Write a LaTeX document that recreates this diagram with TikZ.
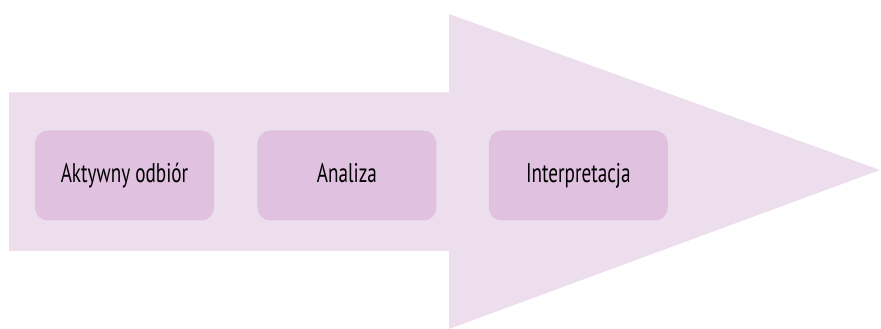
\documentclass[tikz,border=0pt]{standalone}
\usepackage{fontspec}
\setmainfont[FakeStretch=0.71]{PT Sans}
\usepackage{xcolor}
\definecolor{lilac}{HTML}{EDDEEE}
\definecolor{mauve}{HTML}{E0C1DF}
\usetikzlibrary{positioning}

\begin{document}
\begin{tikzpicture}[x=1pt, y=1pt, every node/.style={font=\fontsize{27}{31}\selectfont},
  stepbox/.style={fill=mauve, rounded corners=13pt, minimum width=179pt, minimum height=90pt, text height=19pt, text depth=5pt}]
  \useasboundingbox (0,0) rectangle (881,329);
  % Big arrow in the background
  \fill[lilac] (9,78) -- (9,236.5) -- (449,236.5) -- (449,315) -- (880,159) -- (449,0) -- (449,78) -- cycle;
  % Steps inside the arrow
  \node[stepbox] (odbior) at (124.5,153.5) {Aktywny odbiór};
  \node[stepbox, right=43pt of odbior] (analiza) {Analiza};
  \node[stepbox, right=52pt of analiza] (interpretacja) {Interpretacja};
\end{tikzpicture}
\end{document}
